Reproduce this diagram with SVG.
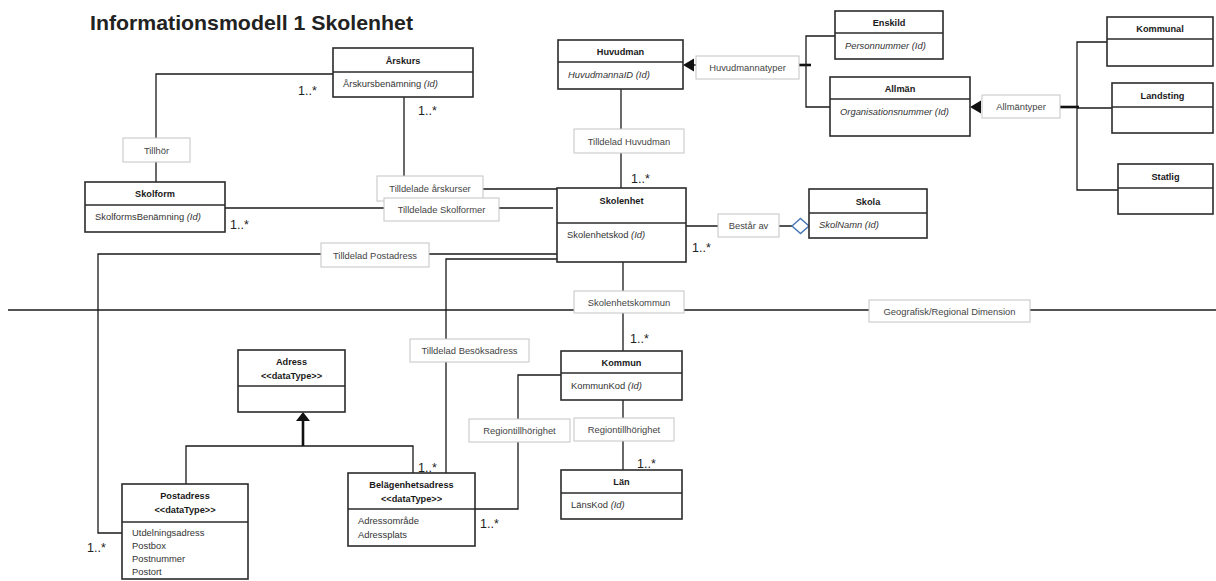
<svg xmlns="http://www.w3.org/2000/svg" width="1216" height="581" viewBox="0 0 1216 581">
<style>
.box{fill:#fff;stroke:#2b2b2b;stroke-width:1.6}
.div{stroke:#2b2b2b;stroke-width:1.3}
.t{font-family:"Liberation Sans",Arial,sans-serif;font-size:9.2px;font-weight:bold;fill:#1a1a1a;text-anchor:middle}
.a{font-family:"Liberation Sans",Arial,sans-serif;font-size:9.4px;fill:#333}
.i{font-style:italic}
.lbl rect{fill:#fff;stroke:#c4c4c4;stroke-width:1}
.lbl text{font-family:"Liberation Sans",Arial,sans-serif;font-size:9.4px;fill:#444;text-anchor:middle}
.c{fill:none;stroke:#1a1a1a;stroke-width:1.3}
.thick{fill:none;stroke:#111;stroke-width:2.6}
.m{font-family:"Liberation Sans",Arial,sans-serif;font-size:12.5px;fill:#222}
</style>
<rect width="1216" height="581" fill="#fff"/>
<text x="90" y="30" font-family="'Liberation Sans',Arial,sans-serif" font-size="21" font-weight="bold" fill="#222" textLength="323" lengthAdjust="spacingAndGlyphs">Informationsmodell 1 Skolenhet</text>

<g id="connectors">
<path class="c" d="M333,74 H156 V182"/>
<path class="c" d="M404,97 V189 H557"/>
<path class="c" d="M225,208 H553"/>
<path class="c" d="M557,254 H98 V533 H122"/>
<path class="c" d="M557,259 H446 V473"/>
<path class="c" d="M621,89 V188"/>
<path class="c" d="M686,226 H792"/>
<polygon points="792,226 800.5,218.5 809,226 800.5,233.5" fill="#fff" stroke="#4a78b5" stroke-width="1.5"/>
<path class="c" d="M623,262 V351"/>
<path class="c" d="M8,310 H1216"/>
<path class="c" d="M623,400 V470"/>
<path class="c" d="M561,375 H518 V509 H475"/>
<path class="thick" d="M303,420 V446"/>
<polygon points="296,421 310,421 303,412" fill="#111"/>
<path class="c" d="M186,484 V446 H413 V473"/>
<path class="c" d="M696,65 H694"/>
<polygon points="683,65 694,58.5 694,71.5" fill="#111"/>
<path class="thick" d="M799,65 H811"/>
<path class="c" d="M835,36 H806 V107 H830"/>
<polygon points="970,107 981,100.5 981,113.5" fill="#111"/>
<path class="thick" d="M1060,107 H1079"/>
<path class="c" d="M1107,42 H1077 V190 H1118"/>
<path class="c" d="M1077,108 H1112"/>
</g>

<g id="labels">
<g class="lbl"><rect x="123" y="138" width="67" height="24"/><text x="156.5" y="153.5">Tillhör</text></g>
<g class="lbl"><rect x="377" y="176" width="106" height="25"/><text x="430" y="192">Tilldelade årskurser</text></g>
<g class="lbl"><rect x="384" y="198" width="115" height="23"/><text x="441.5" y="213">Tilldelade Skolformer</text></g>
<g class="lbl"><rect x="321" y="243" width="108" height="24"/><text x="375" y="258.5">Tilldelad Postadress</text></g>
<g class="lbl"><rect x="574" y="129" width="110" height="24"/><text x="629" y="144.5">Tilldelad Huvudman</text></g>
<g class="lbl"><rect x="696" y="56" width="103" height="23"/><text x="747.5" y="71">Huvudmannatyper</text></g>
<g class="lbl"><rect x="982" y="95" width="78" height="23"/><text x="1021" y="110">Allmäntyper</text></g>
<g class="lbl"><rect x="718" y="214" width="61" height="23"/><text x="748.5" y="229">Består av</text></g>
<g class="lbl"><rect x="574" y="291" width="110" height="22"/><text x="629" y="305.5">Skolenhetskommun</text></g>
<g class="lbl"><rect x="869" y="300" width="161" height="22"/><text x="949.5" y="314.5">Geografisk/Regional Dimension</text></g>
<g class="lbl"><rect x="410" y="339" width="119" height="23"/><text x="469.5" y="354">Tilldelad Besöksadress</text></g>
<g class="lbl"><rect x="469" y="419" width="101" height="23"/><text x="519.5" y="434">Regiontillhörighet</text></g>
<g class="lbl"><rect x="574" y="418" width="100" height="23"/><text x="624" y="433">Regiontillhörighet</text></g>
</g>

<g id="multiplicities">
<text class="m" x="298" y="95">1..*</text>
<text class="m" x="418" y="115">1..*</text>
<text class="m" x="230" y="229">1..*</text>
<text class="m" x="631" y="183">1..*</text>
<text class="m" x="692" y="252">1..*</text>
<text class="m" x="630" y="343">1..*</text>
<text class="m" x="637" y="468">1..*</text>
<text class="m" x="418" y="472">1..*</text>
<text class="m" x="480" y="528">1..*</text>
<text class="m" x="87" y="552">1..*</text>
</g>

<g id="arskurs"><rect class="box" x="333" y="48" width="140" height="49"/><line class="div" x1="333" y1="72" x2="473" y2="72"/><text class="t" x="403" y="64">Årskurs</text><text class="a" x="343" y="87">Årskursbenämning <tspan class="i">(Id)</tspan></text></g>
<g id="skolform"><rect class="box" x="85" y="182" width="140" height="50"/><line class="div" x1="85" y1="205" x2="225" y2="205"/><text class="t" x="155" y="197">Skolform</text><text class="a" x="95" y="220">SkolformsBenämning <tspan class="i">(Id)</tspan></text></g>
<g id="huvudman"><rect class="box" x="558" y="40" width="125" height="49"/><line class="div" x1="558" y1="62" x2="683" y2="62"/><text class="t" x="620.5" y="55">Huvudman</text><text class="a i" x="568" y="78">HuvudmannaID (Id)</text></g>
<g id="enskild"><rect class="box" x="835" y="11" width="108" height="48"/><line class="div" x1="835" y1="33" x2="943" y2="33"/><text class="t" x="889" y="26">Enskild</text><text class="a i" x="845" y="49">Personnummer (Id)</text></g>
<g id="allman"><rect class="box" x="830" y="77" width="140" height="59"/><line class="div" x1="830" y1="99" x2="970" y2="99"/><text class="t" x="900" y="92">Allmän</text><text class="a i" x="840" y="115">Organisationsnummer (Id)</text></g>
<g id="kommunal"><rect class="box" x="1107" y="17" width="106" height="49"/><line class="div" x1="1107" y1="39" x2="1213" y2="39"/><text class="t" x="1160" y="32">Kommunal</text></g>
<g id="landsting"><rect class="box" x="1112" y="83" width="101" height="50"/><line class="div" x1="1112" y1="107" x2="1213" y2="107"/><text class="t" x="1162.5" y="99">Landsting</text></g>
<g id="statlig"><rect class="box" x="1118" y="164" width="95" height="50"/><line class="div" x1="1118" y1="188" x2="1213" y2="188"/><text class="t" x="1165.5" y="180">Statlig</text></g>
<g id="skolenhet"><rect class="box" x="557" y="188" width="129" height="74"/><line class="div" x1="557" y1="223" x2="686" y2="223"/><text class="t" x="621.5" y="204">Skolenhet</text><text class="a" x="567" y="238">Skolenhetskod <tspan class="i">(Id)</tspan></text></g>
<g id="skola"><rect class="box" x="809" y="189" width="118" height="49"/><line class="div" x1="809" y1="213" x2="927" y2="213"/><text class="t" x="868" y="205">Skola</text><text class="a i" x="819" y="228">SkolNamn  (Id)</text></g>
<g id="kommun"><rect class="box" x="561" y="351" width="121" height="49"/><line class="div" x1="561" y1="373" x2="682" y2="373"/><text class="t" x="621.5" y="366">Kommun</text><text class="a" x="571" y="389">KommunKod  <tspan class="i">(Id)</tspan></text></g>
<g id="lan"><rect class="box" x="561" y="470" width="121" height="49"/><line class="div" x1="561" y1="493" x2="682" y2="493"/><text class="t" x="621.5" y="485">Län</text><text class="a" x="571" y="508">LänsKod <tspan class="i">(Id)</tspan></text></g>
<g id="adress"><rect class="box" x="238" y="350" width="107" height="62"/><line class="div" x1="238" y1="386" x2="345" y2="386"/><text class="t" x="291.5" y="365">Adress</text><text class="t" x="291.5" y="379">&lt;&lt;dataType&gt;&gt;</text></g>
<g id="postadress"><rect class="box" x="122" y="484" width="126" height="95"/><line class="div" x1="122" y1="522" x2="248" y2="522"/><text class="t" x="185" y="499">Postadress</text><text class="t" x="185" y="513">&lt;&lt;dataType&gt;&gt;</text><text class="a" x="132" y="536">Utdelningsadress</text><text class="a" x="132" y="549">Postbox</text><text class="a" x="132" y="562">Postnummer</text><text class="a" x="132" y="575">Postort</text></g>
<g id="belagenhetsadress"><rect class="box" x="348" y="473" width="127" height="73"/><line class="div" x1="348" y1="509" x2="475" y2="509"/><text class="t" x="411.5" y="488">Belägenhetsadress</text><text class="t" x="411.5" y="502">&lt;&lt;dataType&gt;&gt;</text><text class="a" x="358" y="524">Adressområde</text><text class="a" x="358" y="538">Adressplats</text></g>
</svg>
